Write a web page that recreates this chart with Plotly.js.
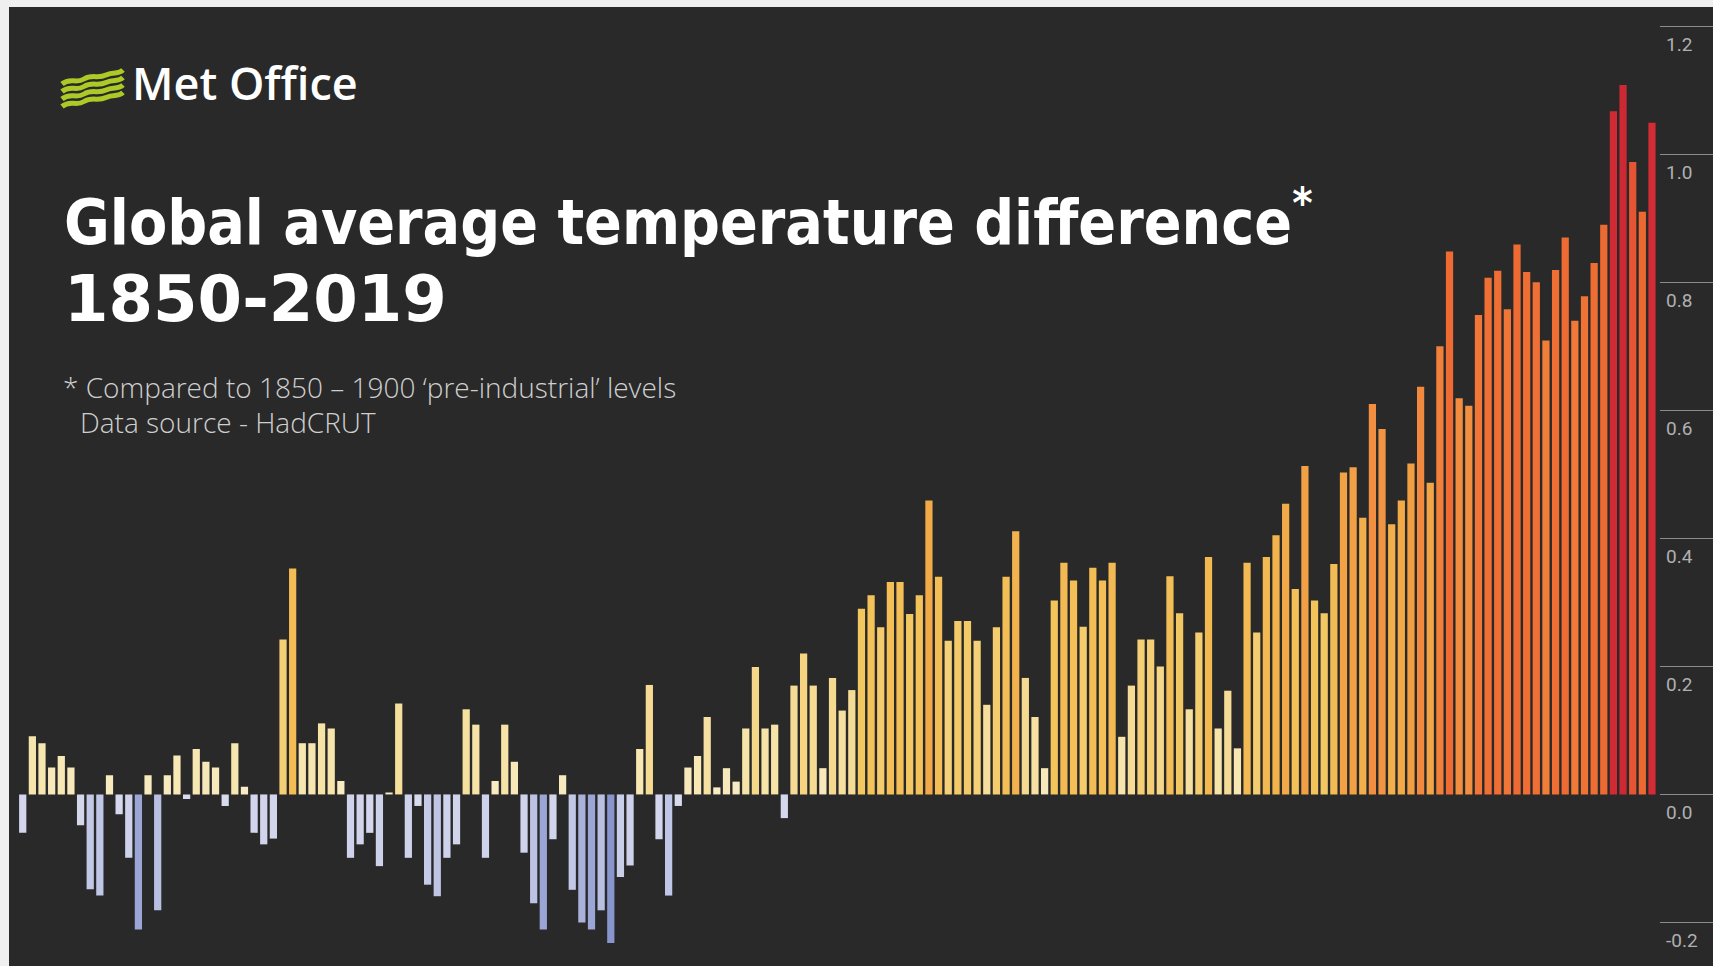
<!DOCTYPE html>
<html>
<head>
<meta charset="utf-8">
<script src="https://cdn.plot.ly/plotly-3.0.1.min.js"></script>
<style>
  html, body { margin: 0; padding: 0; background: #efefef; width: 1713px; height: 966px; overflow: hidden; }
  #chart { position: absolute; left: 9px; top: 7px; width: 1704px; height: 959px; }
</style>
</head>
<body>
<div id="chart"></div>
<script>
// ---- data: global average temperature difference vs 1850-1900 (°C) ----
const startYear = 1850;
const anomalies = [
  -0.060, 0.091, 0.080, 0.042, 0.060, 0.042, -0.048, -0.148, -0.158, 0.030,   // 1850-1859
  -0.031, -0.099, -0.211, 0.030, -0.181, 0.030, 0.061, -0.007, 0.071, 0.051,  // 1860-1869
  0.042, -0.018, 0.080, 0.012, -0.060, -0.078, -0.069, 0.242, 0.353, 0.080,   // 1870-1879
  0.080, 0.111, 0.103, 0.021, -0.099, -0.078, -0.060, -0.112, 0.003, 0.142,   // 1880-1889
  -0.099, -0.018, -0.141, -0.159, -0.099, -0.078, 0.133, 0.109, -0.099, 0.021, // 1890-1899
  0.109, 0.051, -0.091, -0.170, -0.211, -0.070, 0.030, -0.149, -0.200, -0.211, // 1900-1909
  -0.181, -0.232, -0.129, -0.111, 0.071, 0.171, -0.070, -0.158, -0.018, 0.042, // 1910-1919
  0.060, 0.121, 0.011, 0.041, 0.020, 0.103, 0.199, 0.103, 0.109, -0.037,      // 1920-1929
  0.170, 0.220, 0.170, 0.041, 0.182, 0.131, 0.163, 0.290, 0.311, 0.261,       // 1930-1939
  0.332, 0.332, 0.282, 0.311, 0.459, 0.340, 0.240, 0.271, 0.271, 0.240,       // 1940-1949
  0.140, 0.261, 0.340, 0.411, 0.182, 0.121, 0.041, 0.303, 0.362, 0.334,       // 1950-1959
  0.262, 0.354, 0.334, 0.362, 0.090, 0.170, 0.242, 0.242, 0.200, 0.341,       // 1960-1969
  0.283, 0.133, 0.253, 0.371, 0.103, 0.162, 0.072, 0.362, 0.253, 0.371,       // 1970-1979
  0.405, 0.454, 0.321, 0.513, 0.303, 0.283, 0.360, 0.503, 0.511, 0.432,       // 1980-1989
  0.610, 0.571, 0.422, 0.459, 0.517, 0.637, 0.487, 0.700, 0.848, 0.619,       // 1990-1999
  0.607, 0.749, 0.807, 0.818, 0.758, 0.859, 0.816, 0.800, 0.709, 0.819,       // 2000-2009
  0.870, 0.740, 0.778, 0.830, 0.890, 1.067, 1.108, 0.988, 0.910, 1.049        // 2010-2019
];
const years = anomalies.map((_, i) => startYear + i);

const tickValues = [-0.2, 0.0, 0.2, 0.4, 0.6, 0.8, 1.0, 1.2];

const titleText = "Global average temperature difference<sup>*</sup>";
const subtitleText = "1850-2019";
const noteLine1 = "* Compared to 1850 \u2013 1900 \u2018pre-industrial\u2019 levels";
const noteLine2 = "Data source - HadCRUT";
const brandText = "Met Office";

// ---- layout helpers (page pixel -> paper fraction) ----
const W = 1704, H = 959, OX = 9, OY = 7;
const px = x => (x - OX) / W;
const py = y => 1 - (y - OY) / H;

// colour ramp: lavender below zero, cream -> amber -> orange -> red above
const cmin = -0.25, cmax = 1.1;
const stops = [
  [-0.25, '#7f8bc8'], [-0.22, '#909bd1'], [-0.19, '#b6bde0'], [-0.12, '#ccd0ea'], [-0.001, '#dadcee'],
  [0.0, '#f8edc8'], [0.1, '#f6e4aa'], [0.2, '#f5d78a'], [0.3, '#f3c55a'],
  [0.45, '#f2ab48'], [0.6, '#f29040'], [0.8, '#ef6f34'], [0.97, '#ec6631'],
  [1.03, '#d42d36'], [1.1, '#cd2934']
];
const colorscale = stops.map(s => [(s[0] - cmin) / (cmax - cmin), s[1]]);

const bars = {
  type: 'bar',
  x: years,
  y: anomalies,
  marker: { color: anomalies, colorscale: colorscale, cmin: cmin, cmax: cmax, line: { width: 0 } },
  hoverinfo: 'x+y',
  showlegend: false
};
const axisHolder = {
  type: 'scatter', mode: 'markers', x: [0.5], y: [0],
  xaxis: 'x2', yaxis: 'y2', marker: { opacity: 0 }, hoverinfo: 'skip', showlegend: false
};

// Met Office logo stripes (decorative), relative pixel path template
const stripe = [[0,0],[8,-7],[14,0],[22,-5],[30,-10],[36,-5],[44,-9],[52,-13],[56,-9],[61,-14]];
const logoShapes = [0,1,2,3].map(k => {
  const ox = 62, oy = 84 + k * 7.5;
  const p = stripe.map(([dx, dy]) => [px(ox + dx), py(oy + dy)]);
  const d = `M${p[0][0]},${p[0][1]} C${p[1][0]},${p[1][1]} ${p[2][0]},${p[2][1]} ${p[3][0]},${p[3][1]} ` +
            `C${p[4][0]},${p[4][1]} ${p[5][0]},${p[5][1]} ${p[6][0]},${p[6][1]} ` +
            `C${p[7][0]},${p[7][1]} ${p[8][0]},${p[8][1]} ${p[9][0]},${p[9][1]}`;
  return { type: 'path', xref: 'paper', yref: 'paper', path: d, line: { color: '#abc927', width: 5 }, layer: 'above' };
});

const layout = {
  width: W, height: H,
  margin: { l: 0, r: 0, t: 0, b: 0, pad: 0 },
  paper_bgcolor: '#292929',
  plot_bgcolor: 'rgba(0,0,0,0)',
  bargap: 0.25,
  xaxis: {
    domain: [px(17.9), px(1656.8)], range: [startYear - 0.5, startYear + anomalies.length - 0.5],
    visible: false, fixedrange: true
  },
  yaxis: {
    domain: [0, 1], range: [-0.268, 1.23], visible: false, fixedrange: true
  },
  xaxis2: { domain: [px(1660), 1], range: [0, 1], visible: false, anchor: 'y2' },
  yaxis2: {
    anchor: 'x2', domain: [0, 1], range: [-0.268, 1.23], side: 'left',
    tickmode: 'array', tickvals: tickValues, ticktext: tickValues.map(v => v.toFixed(1)),
    showgrid: true, gridcolor: '#8c8c8c', gridwidth: 1, zeroline: false, showline: false,
    ticks: '', ticklabelposition: 'inside bottom', ticklabelstandoff: 3, ticklabelshift: 5,
    tickfont: { family: 'Roboto, "Open Sans", sans-serif', size: 19, color: '#b0b0b0' }
  },
  shapes: logoShapes,
  annotations: [
    { text: brandText, xref: 'paper', yref: 'paper', x: px(130), y: py(82), xanchor: 'left', yanchor: 'middle',
      showarrow: false, font: { family: '"Open Sans", sans-serif', size: 45, color: '#ffffff', weight: 600 } },
    { text: titleText, xref: 'paper', yref: 'paper', x: px(62), y: py(218), xanchor: 'left', yanchor: 'middle',
      showarrow: false, font: { family: '"DejaVu Sans Condensed", "DejaVu Sans", sans-serif', size: 62, color: '#ffffff', weight: 700 } },
    { text: subtitleText, xref: 'paper', yref: 'paper', x: px(62), y: py(299), xanchor: 'left', yanchor: 'middle',
      showarrow: false, font: { family: '"DejaVu Sans", sans-serif', size: 64, color: '#ffffff', weight: 700 } },
    { text: noteLine1, xref: 'paper', yref: 'paper', x: px(61), y: py(387), xanchor: 'left', yanchor: 'middle',
      showarrow: false, font: { family: '"Open Sans", sans-serif', size: 28, color: '#cfcfcf', weight: 300 } },
    { text: noteLine2, xref: 'paper', yref: 'paper', x: px(78), y: py(422), xanchor: 'left', yanchor: 'middle',
      showarrow: false, font: { family: '"Open Sans", sans-serif', size: 28, color: '#cfcfcf', weight: 300 } }
  ]
};

Plotly.newPlot('chart', [bars, axisHolder], layout, { staticPlot: true, displayModeBar: false });
</script>
</body>
</html>
